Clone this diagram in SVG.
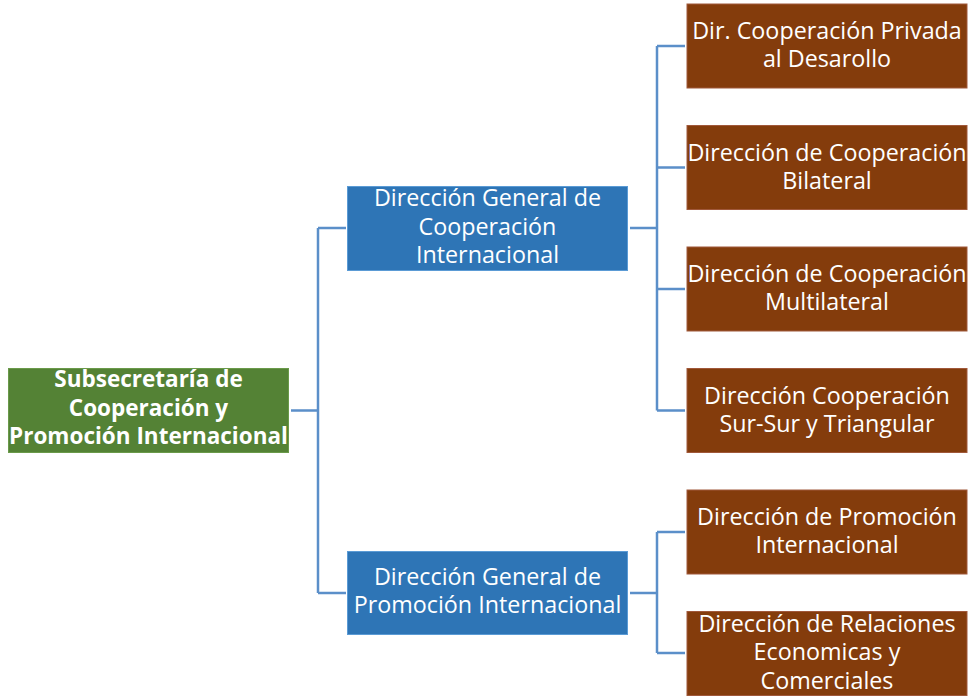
<svg xmlns="http://www.w3.org/2000/svg" width="971" height="696" viewBox="0 0 971 696">
<style>
.t{font-family:"Open Sans","Liberation Sans",Arial,sans-serif;font-size:23.3px;fill:#fff;text-anchor:middle}
.b{font-weight:bold;font-size:22.5px}
.green{fill:#548235;stroke:#6a9a4a;stroke-width:1}
.blue{fill:#2E75B6;stroke:#5b9bd5;stroke-width:1}
.brown{fill:#843C0C;stroke:#a0583a;stroke-width:1}
.c{fill:none;stroke:#5B8FC9;stroke-width:2.5}
</style>
<rect width="971" height="696" fill="#fff"/>
<g id="connectors">
<path class="c" d="M291,410.5H318M318,228V593M318,228H346M318,593H346"/>
<path class="c" d="M630,228H657M657,46V410.5M657,46H685M657,167.5H685M657,289H685M657,410.5H685"/>
<path class="c" d="M630,593H657M657,532V653M657,532H685M657,653H685"/>
</g>
<g id="n-sub"><rect class="green" x="8.5" y="368.5" width="280" height="84"/>
<text class="t b" x="148.5"><tspan x="148.5" y="387">Subsecretaría de</tspan><tspan x="148.5" y="416">Cooperación y</tspan><tspan x="148.5" y="444">Promoción Internacional</tspan></text></g>
<g id="n-dgci"><rect class="blue" x="347.5" y="186.5" width="280" height="84"/>
<text class="t"><tspan x="487.5" y="206">Dirección General de</tspan><tspan x="487.5" y="235">Cooperación</tspan><tspan x="487.5" y="263">Internacional</tspan></text></g>
<g id="n-dgpi"><rect class="blue" x="347.5" y="551.5" width="280" height="83"/>
<text class="t"><tspan x="487.5" y="585">Dirección General de</tspan><tspan x="487.5" y="613">Promoción Internacional</tspan></text></g>
<g id="n-priv"><rect class="brown" x="687" y="4" width="280" height="84"/>
<text class="t"><tspan x="827" y="39">Dir. Cooperación Privada</tspan><tspan x="827" y="67">al Desarollo</tspan></text></g>
<g id="n-bil"><rect class="brown" x="687" y="125.5" width="280" height="84"/>
<text class="t"><tspan x="827" y="160.5">Dirección de Cooperación</tspan><tspan x="827" y="188.5">Bilateral</tspan></text></g>
<g id="n-mul"><rect class="brown" x="687" y="247" width="280" height="84"/>
<text class="t"><tspan x="827" y="282">Dirección de Cooperación</tspan><tspan x="827" y="310">Multilateral</tspan></text></g>
<g id="n-sur"><rect class="brown" x="687" y="368.5" width="280" height="84"/>
<text class="t"><tspan x="827" y="403.5">Dirección Cooperación</tspan><tspan x="827" y="431.5">Sur-Sur y Triangular</tspan></text></g>
<g id="n-prom"><rect class="brown" x="687" y="490" width="280" height="84"/>
<text class="t"><tspan x="827" y="525">Dirección de Promoción</tspan><tspan x="827" y="553">Internacional</tspan></text></g>
<g id="n-rel"><rect class="brown" x="687" y="611.5" width="280" height="84"/>
<text class="t"><tspan x="827" y="632">Dirección de Relaciones</tspan><tspan x="827" y="660">Economicas y</tspan><tspan x="827" y="689">Comerciales</tspan></text></g>
</svg>
